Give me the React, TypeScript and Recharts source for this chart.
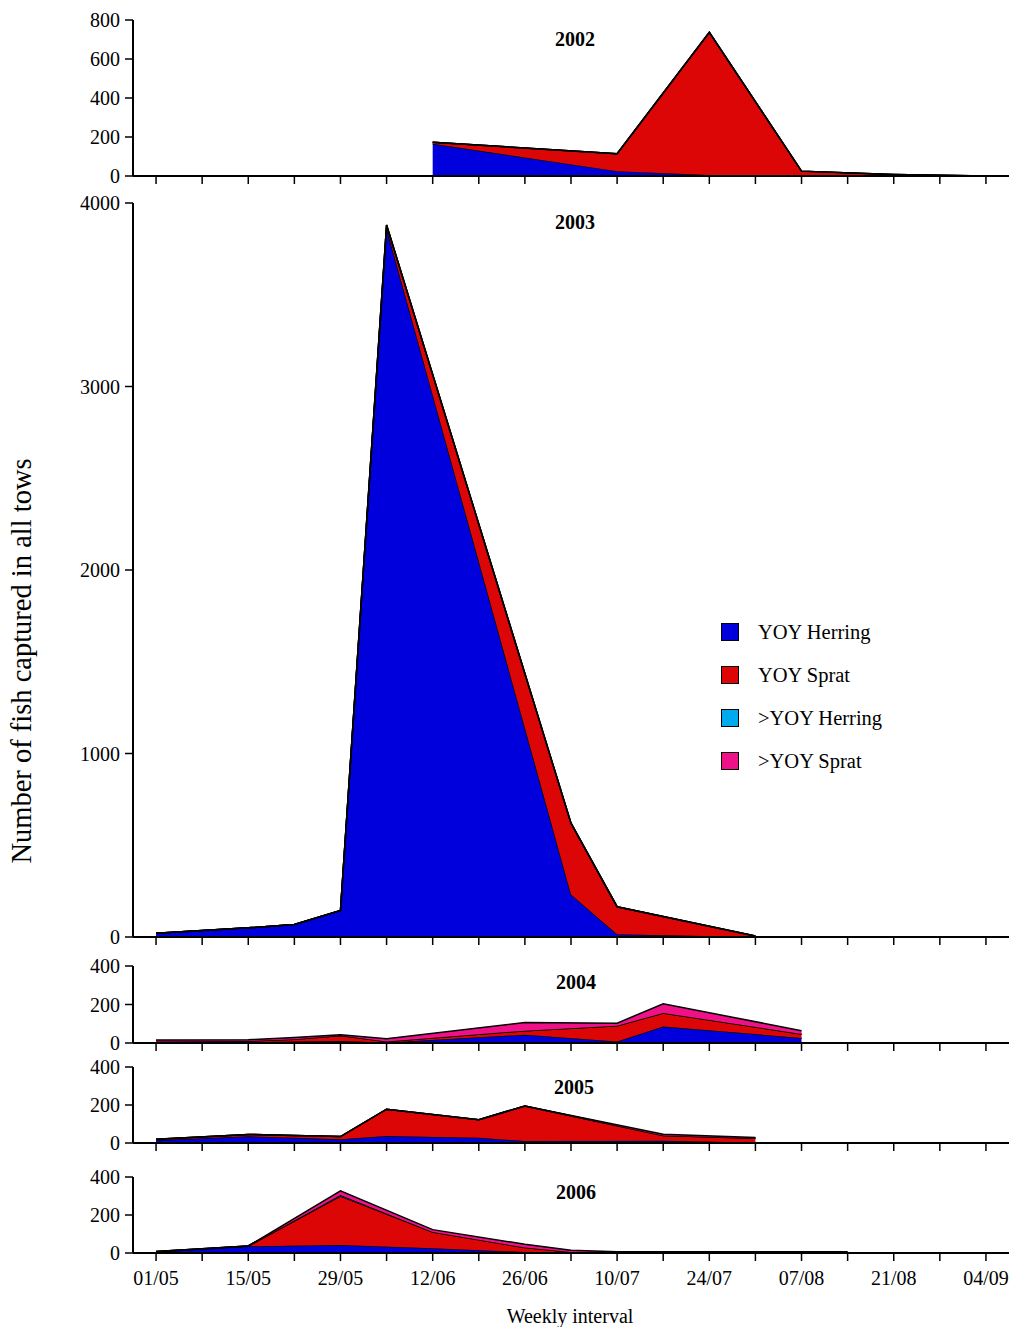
import React from "react";
import { AreaChart, Area, XAxis, YAxis } from "recharts";

// weekly intervals (x axis), labelled every second week
const weekLabels = [
  "01/05", "08/05", "15/05", "22/05", "29/05", "05/06", "12/06", "19/06",
  "26/06", "03/07", "10/07", "17/07", "24/07", "31/07", "07/08", "14/08",
  "21/08", "28/08", "04/09",
];
const weekTicks = weekLabels.map((_, i) => i);

const seriesNames = ["YOY Herring", "YOY Sprat", ">YOY Herring", ">YOY Sprat"];
const seriesColors = ["#0000dd", "#dd0606", "#00aaee", "#ee1188"];

// 2002
const weeks2002 = [6, 10, 12, 14, 16, 18];
const yoyHerring2002 = [165, 25, 5, 1, 0, 0];
const yoySprat2002 = [8, 89, 732, 24, 8, 0];
const oldHerring2002 = [0, 0, 0, 0, 0, 0];
const oldSprat2002 = [0, 0, 0, 0, 0, 0];

// 2003
const weeks2003 = [0, 2, 3, 4, 5, 9, 10, 13];
const yoyHerring2003 = [20, 50, 68, 143, 3862, 232, 15, 0];
const yoySprat2003 = [0, 0, 0, 2, 18, 388, 150, 5];
const oldHerring2003 = [0, 0, 0, 0, 0, 0, 0, 0];
const oldSprat2003 = [0, 0, 0, 0, 0, 0, 0, 0];

// 2004
const weeks2004 = [0, 2, 3, 4, 5, 8, 10, 11, 14];
const yoyHerring2004 = [5, 5, 8, 10, 3, 43, 8, 86, 26];
const yoySprat2004 = [3, 5, 12, 29, 5, 21, 82, 70, 21];
const oldHerring2004 = [0, 0, 0, 0, 0, 0, 0, 0, 0];
const oldSprat2004 = [8, 7, 9, 4, 14, 43, 13, 48, 17];

// 2005
const weeks2005 = [0, 2, 3, 4, 5, 7, 8, 11, 13];
const yoyHerring2005 = [14, 35, 28, 20, 37, 28, 10, 12, 3];
const yoySprat2005 = [6, 10, 12, 14, 141, 95, 185, 28, 22];
const oldHerring2005 = [0, 0, 0, 0, 0, 0, 0, 0, 0];
const oldSprat2005 = [0, 0, 0, 0, 0, 0, 0, 6, 4];

// 2006
const weeks2006 = [0, 2, 4, 6, 8, 9, 10, 12, 14, 15];
const yoyHerring2006 = [5, 35, 42, 25, 5, 2, 2, 2, 2, 2];
const yoySprat2006 = [3, 2, 258, 85, 24, 3, 1, 1, 1, 1];
const oldHerring2006 = [0, 0, 5, 0, 0, 0, 0, 0, 0, 0];
const oldSprat2006 = [0, 0, 22, 13, 17, 10, 3, 3, 3, 3];

const buildRows = (
  weeks: number[],
  yh: number[],
  ys: number[],
  oh: number[],
  os: number[]
) => weeks.map((w, i) => ({ week: w, yh: yh[i], ys: ys[i], oh: oh[i], os: os[i] }));

const font = "'Liberation Serif', 'Times New Roman', serif";
const W = 1009;

type Panel = {
  year: string;
  rows: ReturnType<typeof buildRows>;
  max: number;
  yTicks: number[];
  plotTop: number;
  plotH: number;
  titleY: number;
  titleX: number;
  bottom?: boolean;
};

const panels: Panel[] = [
  {
    year: "2002",
    rows: buildRows(weeks2002, yoyHerring2002, yoySprat2002, oldHerring2002, oldSprat2002),
    max: 800,
    yTicks: [0, 200, 400, 600, 800],
    plotTop: 20,
    plotH: 156,
    titleY: 39,
    titleX: 575,
  },
  {
    year: "2003",
    rows: buildRows(weeks2003, yoyHerring2003, yoySprat2003, oldHerring2003, oldSprat2003),
    max: 4000,
    yTicks: [0, 1000, 2000, 3000, 4000],
    plotTop: 203,
    plotH: 734,
    titleY: 222,
    titleX: 575,
  },
  {
    year: "2004",
    rows: buildRows(weeks2004, yoyHerring2004, yoySprat2004, oldHerring2004, oldSprat2004),
    max: 400,
    yTicks: [0, 200, 400],
    plotTop: 966,
    plotH: 77,
    titleY: 982,
    titleX: 576,
  },
  {
    year: "2005",
    rows: buildRows(weeks2005, yoyHerring2005, yoySprat2005, oldHerring2005, oldSprat2005),
    max: 400,
    yTicks: [0, 200, 400],
    plotTop: 1067,
    plotH: 76,
    titleY: 1087,
    titleX: 574,
  },
  {
    year: "2006",
    rows: buildRows(weeks2006, yoyHerring2006, yoySprat2006, oldHerring2006, oldSprat2006),
    max: 400,
    yTicks: [0, 200, 400],
    plotTop: 1177,
    plotH: 76,
    titleY: 1192,
    titleX: 576,
    bottom: true,
  },
];

const keys = ["yh", "ys", "oh", "os"];

const PanelChart: React.FC<{ p: Panel }> = ({ p }) => {
  const mt = 10;
  const xh = p.bottom ? 40 : 12;
  return (
    <div style={{ position: "absolute", left: 0, top: p.plotTop - mt }}>
      <AreaChart
        width={W}
        height={mt + p.plotH + xh}
        data={p.rows}
        margin={{ top: mt, right: 0, bottom: 0, left: 0 }}
      >
        {keys.map((k, i) => (
          <Area
            key={k}
            type="linear"
            dataKey={k}
            stackId="a"
            stroke="#000"
            strokeWidth={1.5}
            fill={seriesColors[i]}
            fillOpacity={1}
            dot={false}
            activeDot={false}
            isAnimationActive={false}
          />
        ))}
        <XAxis
          dataKey="week"
          type="number"
          domain={[-0.5, 18.5]}
          ticks={weekTicks}
          interval={0}
          height={xh}
          tickSize={8}
          tickMargin={10}
          axisLine={{ stroke: "#000", strokeWidth: 2 }}
          tickLine={{ stroke: "#000", strokeWidth: 1.5 }}
          tick={{ fill: "#000", fontSize: 20, fontFamily: font }}
          tickFormatter={(v: number) => (p.bottom && v % 2 === 0 ? weekLabels[v] : "")}
        />
        <YAxis
          type="number"
          domain={[0, p.max]}
          ticks={p.yTicks}
          interval={0}
          width={133}
          tickSize={8}
          tickMargin={5}
          axisLine={{ stroke: "#000", strokeWidth: 2 }}
          tickLine={{ stroke: "#000", strokeWidth: 1.5 }}
          tick={{ fill: "#000", fontSize: 20, fontFamily: font }}
        />
      </AreaChart>
    </div>
  );
};

export default function App() {
  return (
    <div
      style={{
        position: "absolute",
        left: 0,
        top: 0,
        width: W,
        height: 1327,
        background: "#fff",
        fontFamily: font,
        color: "#000",
      }}
    >
      {panels.map((p) => (
        <PanelChart key={p.year} p={p} />
      ))}
      {panels.map((p) => (
        <div
          key={"t" + p.year}
          style={{
            position: "absolute",
            left: p.titleX,
            top: p.titleY,
            transform: "translate(-50%, -50%)",
            fontSize: 20,
            fontWeight: "bold",
            whiteSpace: "nowrap",
          }}
        >
          {p.year}
        </div>
      ))}
      <div
        style={{
          position: "absolute",
          left: 22,
          top: 661,
          transform: "translate(-50%, -50%) rotate(-90deg)",
          fontSize: 28.5,
          whiteSpace: "nowrap",
        }}
      >
        Number of fish captured in all tows
      </div>
      <div
        style={{
          position: "absolute",
          left: 570,
          top: 1316,
          transform: "translate(-50%, -50%)",
          fontSize: 20,
          whiteSpace: "nowrap",
        }}
      >
        Weekly interval
      </div>
      {seriesNames.map((name, i) => (
        <div
          key={name}
          style={{
            position: "absolute",
            left: 721,
            top: 632 + i * 43 - 12,
            height: 24,
            display: "flex",
            alignItems: "center",
            fontSize: 20.5,
            whiteSpace: "nowrap",
          }}
        >
          <span
            style={{
              display: "inline-block",
              width: 16,
              height: 16,
              background: seriesColors[i],
              border: "1.5px solid #000",
              marginRight: 19,
            }}
          />
          {name}
        </div>
      ))}
    </div>
  );
}
